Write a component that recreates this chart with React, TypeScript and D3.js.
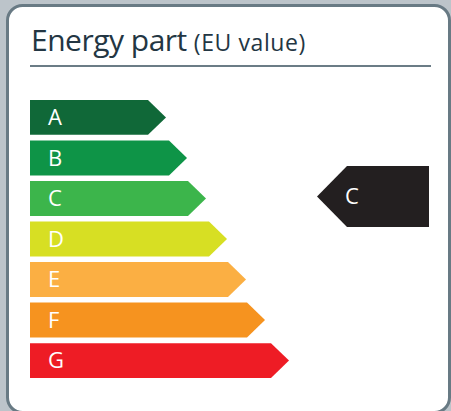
import { scaleBand, scaleLinear } from "d3";

const classes = ["A", "B", "C", "D", "E", "F", "G"];
const classColors = ["#106838", "#0e9447", "#3cb54b", "#d7df23", "#fbaf43", "#f6931f", "#ee1c25"];
const arrowLengths = [136, 157, 176, 197, 216, 235, 259];
const rating = "C";
const titleMain = "Energy part";
const titleSub = "(EU value)";

const W = 451;
const H = 411;
const TIP = 18;
const FONT = "'Open Sans', 'Noto Sans', sans-serif";

export default function App() {
  const y = scaleBand<string>().domain(classes).range([100, 378]).paddingInner(0.14);
  const x = scaleLinear().domain([0, 259]).range([30, 289]);
  const bw = y.bandwidth();

  // rating marker, centred on its class row
  const ry = (y(rating) ?? 0) + bw / 2 - 2;
  const mH = 61;
  const mLeft = 317;
  const mRight = 429;
  const mTip = 30;

  return (
    <div style={{ position: "absolute", left: 0, top: 0 }}>
      <svg width={W} height={H} viewBox={`0 0 ${W} ${H}`} style={{ display: "block" }}>
        <rect x={0} y={0} width={W} height={H} fill="#bcc4ca" />
        <rect x={7.5} y={5.5} width={442} height={407} rx={15} fill="#fff" stroke="#687a84" strokeWidth={3} />

        <text x={31} y={51} fontFamily={FONT} fill="#233643">
          <tspan fontSize={30} letterSpacing={-0.5}>{titleMain}</tspan>
          <tspan fontSize={23} dx={7} letterSpacing={0.6}>{titleSub}</tspan>
        </text>
        <line x1={30} x2={431} y1={66} y2={66} stroke="#6b7c86" strokeWidth={2} />

        {classes.map((c, i) => {
          const top = y(c) ?? 0;
          const tipX = x(arrowLengths[i]);
          const x0 = x(0);
          const d = `M${x0},${top}H${tipX - TIP}L${tipX},${top + bw / 2}L${tipX - TIP},${top + bw}H${x0}Z`;
          return (
            <g key={c}>
              <path d={d} fill={classColors[i]} />
              <text x={x0 + 18} y={top + bw / 2} dy="0.36em" fontFamily={FONT} fontSize={22} fill="#fff">
                {c}
              </text>
            </g>
          );
        })}

        <path
          d={`M${mLeft},${ry}L${mLeft + mTip},${ry - mH / 2}H${mRight}V${ry + mH / 2}H${mLeft + mTip}Z`}
          fill="#231f20"
        />
        <text x={mLeft + 28} y={ry} dy="0.36em" fontFamily={FONT} fontSize={22} fill="#fff">
          {rating}
        </text>
      </svg>
    </div>
  );
}
